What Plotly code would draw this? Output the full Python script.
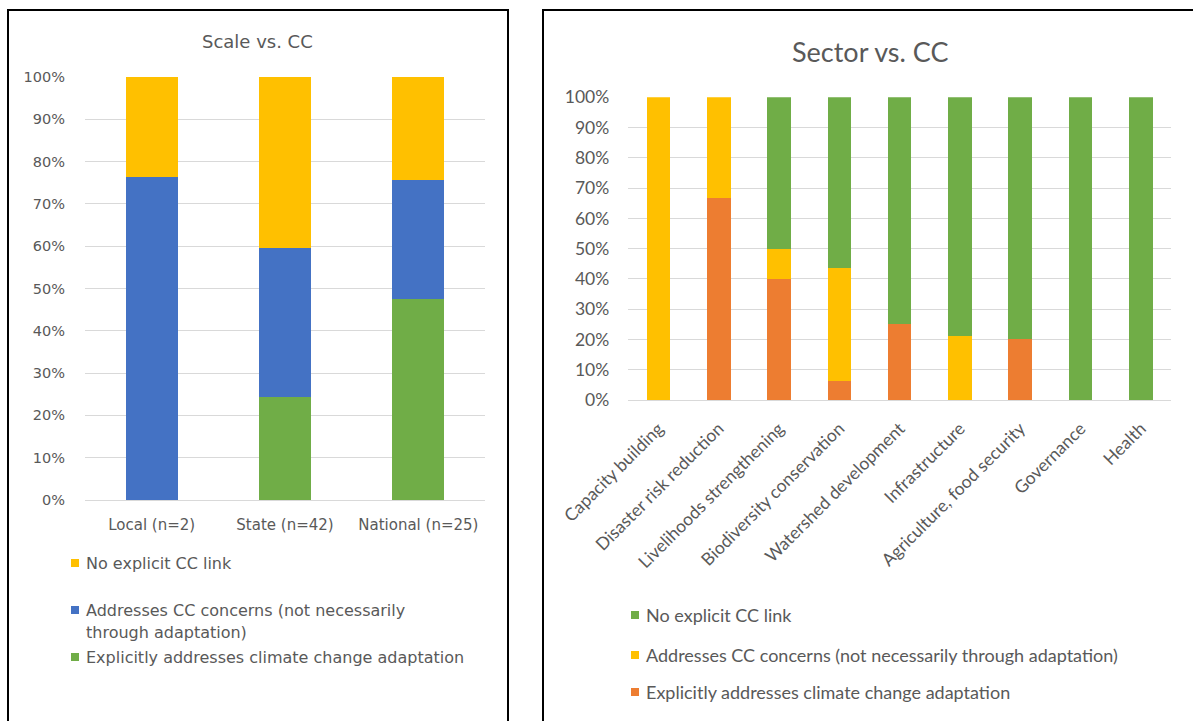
import plotly.graph_objects as go

W, H = 1193, 721

# ---- Scale vs. CC (left panel) ----
scale_categories = ["Local (n=2)", "State (n=42)", "National (n=25)"]
scale_explicit = [0, 24.3, 47.5]      # Explicitly addresses climate change adaptation
scale_concerns = [76.4, 35.3, 28.2]   # Addresses CC concerns
scale_no_link = [23.6, 40.4, 24.3]    # No explicit CC link

# ---- Sector vs. CC (right panel) ----
sector_categories = [
    "Capacity building", "Disaster risk reduction", "Livelihoods strengthening",
    "Biodiversity conservation", "Watershed development", "Infrastructure",
    "Agriculture, food security", "Governance", "Health",
]
sector_explicit = [0, 66.7, 40, 6.25, 25, 0, 20, 0, 0]
sector_concerns = [100, 33.3, 10, 37.5, 0, 21, 0, 0, 0]
sector_no_link = [0, 0, 50, 56.25, 75, 79, 80, 100, 100]

y_ticks = list(range(0, 101, 10))
y_ticktext = [f"{v}%" for v in y_ticks]

name_explicit = "Explicitly addresses climate change adaptation"
name_concerns = "Addresses CC concerns (not necessarily<br>through adaptation)"
name_concerns_one_line = "Addresses CC concerns (not necessarily through adaptation)"
name_no_link = "No explicit CC link"

YELLOW = "#FFC000"
BLUE = "#4472C4"
GREEN = "#70AD47"
ORANGE = "#ED7D31"
TEXT = "#595959"
GRID = "#D9D9D9"

LEFT_FONT = "DejaVu Sans"
RIGHT_FONT = "Lato"


def px_x(x):
    return x / W


def px_y(y):
    return 1 - y / H


fig = go.Figure()

# left stacked bars (bottom to top)
for vals, color, name in [
    (scale_explicit, GREEN, name_explicit),
    (scale_concerns, BLUE, name_concerns),
    (scale_no_link, YELLOW, name_no_link),
]:
    fig.add_trace(go.Bar(
        x=scale_categories, y=vals, name=name, marker_color=color,
        marker_line_width=0, xaxis="x", yaxis="y", showlegend=False,
    ))

# right stacked bars (bottom to top)
for vals, color, name in [
    (sector_explicit, ORANGE, name_explicit),
    (sector_concerns, YELLOW, name_concerns_one_line),
    (sector_no_link, GREEN, name_no_link),
]:
    fig.add_trace(go.Bar(
        x=sector_categories, y=vals, name=name, marker_color=color,
        marker_line_width=0, xaxis="x2", yaxis="y2", showlegend=False,
    ))

common_y = dict(
    range=[0, 100], tickmode="array", tickvals=y_ticks, ticktext=y_ticktext,
    showgrid=True, gridcolor=GRID, gridwidth=1, zeroline=True,
    zerolinecolor=GRID, zerolinewidth=1, showline=False, fixedrange=True,
    automargin=False,
)

fig.update_layout(
    width=W, height=H,
    margin=dict(l=0, r=0, t=0, b=0, autoexpand=False),
    paper_bgcolor="white", plot_bgcolor="white",
    barmode="stack", bargap=0.61,
    showlegend=False,
    xaxis=dict(
        domain=[px_x(85), px_x(485)], anchor="y", showgrid=False,
        showline=False, ticks="", ticklabelstandoff=14, automargin=False,
        tickfont=dict(family=LEFT_FONT, size=15, color=TEXT),
    ),
    yaxis=dict(
        domain=[px_y(500), px_y(77)], anchor="x",
        ticks="", ticklabelstandoff=19,
        tickfont=dict(family=LEFT_FONT, size=14.5, color=TEXT),
        **common_y,
    ),
    xaxis2=dict(
        domain=[px_x(628.3), px_x(1171)], anchor="y2", showgrid=False,
        showline=False, ticks="", tickangle=-45, ticklabelstandoff=14,
        automargin=False,
        tickfont=dict(family=RIGHT_FONT, size=17.5, color=TEXT),
    ),
    yaxis2=dict(
        domain=[px_y(400), px_y(97.3)], anchor="x2",
        ticks="", ticklabelstandoff=18,
        tickfont=dict(family=RIGHT_FONT, size=17.5, color=TEXT),
        **common_y,
    ),
)

shapes = []
annotations = []

# panel frames
shapes.append(dict(type="rect", xref="paper", yref="paper",
                   x0=px_x(8), x1=px_x(508), y0=px_y(740), y1=px_y(10),
                   line=dict(color="black", width=2), fillcolor="rgba(0,0,0,0)"))
shapes.append(dict(type="rect", xref="paper", yref="paper",
                   x0=px_x(543), x1=px_x(1210), y0=px_y(740), y1=px_y(10),
                   line=dict(color="black", width=2), fillcolor="rgba(0,0,0,0)"))

# titles
annotations.append(dict(text="Scale vs. CC", xref="paper", yref="paper",
                        x=px_x(257), y=px_y(42), xanchor="center", yanchor="middle",
                        showarrow=False, font=dict(family=LEFT_FONT, size=18, color=TEXT)))
annotations.append(dict(text="Sector vs. CC", xref="paper", yref="paper",
                        x=px_x(870), y=px_y(52), xanchor="center", yanchor="middle",
                        showarrow=False, font=dict(family=RIGHT_FONT, size=27, color=TEXT)))


def legend_entry(color, lines, sq_x, text_x, y, line_gap, family, size):
    shapes.append(dict(type="rect", xref="paper", yref="paper",
                       x0=px_x(sq_x), x1=px_x(sq_x + 8),
                       y0=px_y(y + 4), y1=px_y(y - 4),
                       line=dict(width=0), fillcolor=color))
    for i, line in enumerate(lines):
        annotations.append(dict(text=line, xref="paper", yref="paper",
                                x=px_x(text_x), y=px_y(y + i * line_gap),
                                xanchor="left", yanchor="middle", showarrow=False,
                                font=dict(family=family, size=size, color=TEXT)))


# left legend
legend_entry(YELLOW, name_no_link.split("<br>"), 71, 84, 563, 22, LEFT_FONT, 16)
legend_entry(BLUE, name_concerns.split("<br>"), 71, 84, 610, 22, LEFT_FONT, 16)
legend_entry(GREEN, name_explicit.split("<br>"), 71, 84, 657, 22, LEFT_FONT, 16)

# right legend
legend_entry(GREEN, [name_no_link], 631, 644, 615, 0, RIGHT_FONT, 18)
legend_entry(YELLOW, [name_concerns_one_line], 631, 644, 655, 0, RIGHT_FONT, 18)
legend_entry(ORANGE, [name_explicit], 631, 644, 692, 0, RIGHT_FONT, 18)

fig.update_layout(shapes=shapes, annotations=annotations)

fig.write_html("out.html")
